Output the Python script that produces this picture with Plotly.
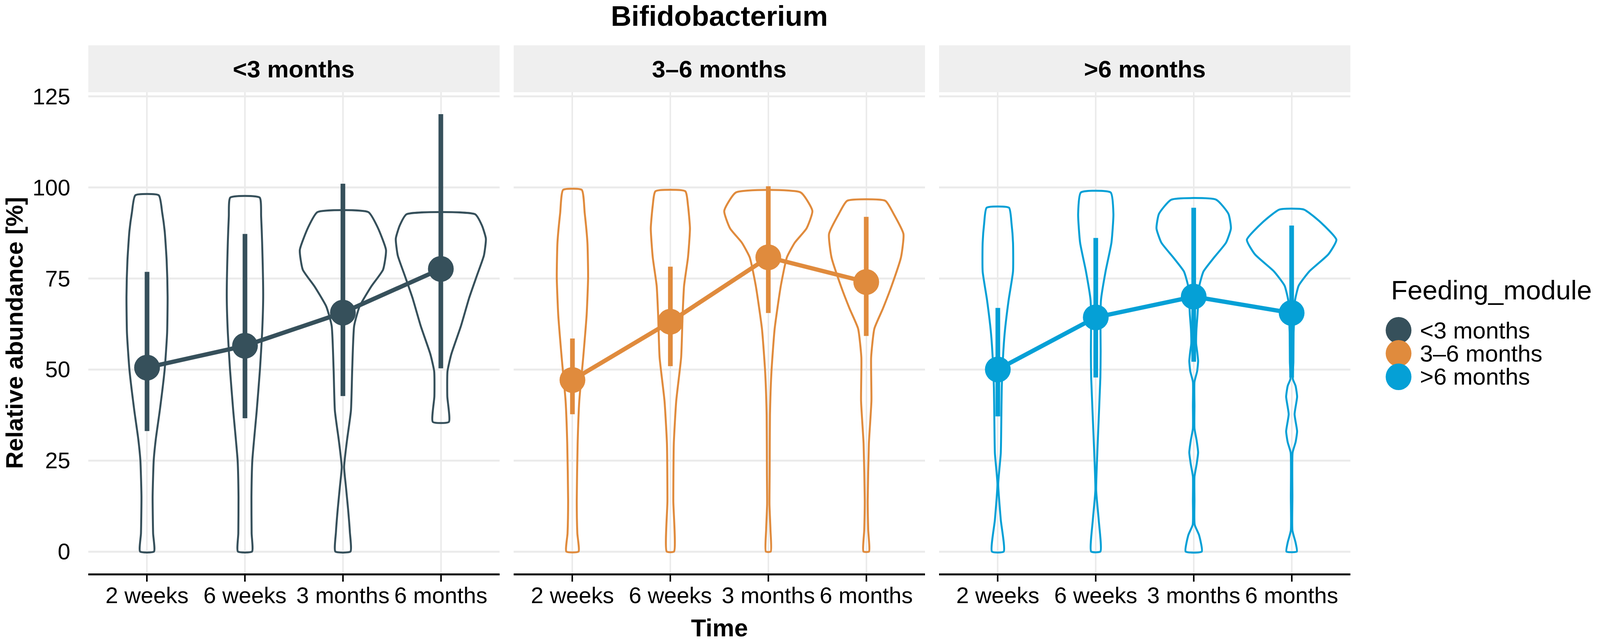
import plotly.graph_objects as go

# categories
times = ["2 weeks", "6 weeks", "3 months", "6 months"]
groups = ["<3 months", "3–6 months", ">6 months"]
colors = ["#36505B", "#E08B3D", "#05A0D6"]

# mean point and range
mean_lt3 = [50.5, 56.5, 65.6, 77.6]
low_lt3 = [33.1, 36.6, 42.7, 50.3]
high_lt3 = [76.8, 87.2, 101.0, 120.1]

mean_36 = [47.1, 63.1, 80.8, 74.0]
low_36 = [37.7, 50.9, 65.5, 59.2]
high_36 = [58.5, 78.2, 100.3, 91.9]

mean_gt6 = [50.0, 64.3, 70.0, 65.5]
low_gt6 = [37.1, 47.8, 52.1, 47.8]
high_gt6 = [66.9, 86.1, 94.4, 89.5]

# violin outlines: abundance levels and half widths (x units)
# <3 months
v_lt3_2w_y = [0, 5, 15, 25, 31, 38.7, 50, 60, 70, 80, 88, 93, 97.8]
v_lt3_2w_w = [0.071, 0.062, 0.057, 0.068, 0.09, 0.13, 0.18, 0.205, 0.21, 0.2, 0.18, 0.155, 0.12]
v_lt3_6w_y = [0, 5, 15, 25, 38.7, 50, 60, 70, 85, 92, 97.2]
v_lt3_6w_w = [0.072, 0.068, 0.066, 0.075, 0.12, 0.153, 0.175, 0.186, 0.175, 0.165, 0.15]
v_lt3_3m_y = [0, 5.4, 11.6, 18, 23.2, 28, 31, 38.7, 50, 62, 67.3, 72.8, 77.4, 82.8, 89, 93.2]
v_lt3_3m_w = [0.077, 0.071, 0.053, 0.03, 0.012, 0.03, 0.044, 0.082, 0.095, 0.115, 0.17, 0.29, 0.41, 0.44, 0.355, 0.26]
v_lt3_6m_y = [35.6, 42.6, 49.5, 54.2, 61.9, 69.7, 75.9, 81.3, 85.9, 89.5, 92.6]
v_lt3_6m_w = [0.082, 0.066, 0.068, 0.107, 0.205, 0.29, 0.37, 0.44, 0.46, 0.42, 0.35]
# 3-6 months
v_36_2w_y = [0, 5, 13.9, 29.6, 41.4, 53.3, 65, 75.3, 84.8, 93, 99.3]
v_36_2w_w = [0.062, 0.05, 0.044, 0.053, 0.07, 0.11, 0.145, 0.16, 0.153, 0.125, 0.095]
v_36_6w_y = [0, 13.9, 29.6, 41.4, 53.3, 65, 73, 80.8, 88.7, 95, 98.9]
v_36_6w_w = [0.037, 0.03, 0.035, 0.06, 0.11, 0.125, 0.14, 0.18, 0.2, 0.18, 0.153]
v_36_3m_y = [0, 6, 13, 21.7, 37.5, 49.3, 61.2, 73, 80.8, 84.8, 88.7, 93.5, 98.6]
v_36_3m_w = [0.025, 0.022, 0.012, 0.014, 0.017, 0.032, 0.065, 0.128, 0.19, 0.27, 0.39, 0.45, 0.33]
v_36_6m_y = [0, 6, 13.9, 29.6, 41.4, 53.3, 61.2, 66.7, 73, 80.8, 87.2, 92.7, 96.3]
v_36_6m_w = [0.028, 0.02, 0.015, 0.027, 0.053, 0.05, 0.083, 0.17, 0.26, 0.355, 0.38, 0.28, 0.195]
# >6 months
v_gt6_2w_y = [0, 8.7, 18.5, 27, 35, 45, 52, 60, 69, 76.9, 84.8, 90, 94.4]
v_gt6_2w_w = [0.06, 0.03, 0.004, 0.03, 0.035, 0.04, 0.05, 0.07, 0.11, 0.155, 0.155, 0.14, 0.114]
v_gt6_6w_y = [0, 8.7, 16.9, 31.3, 47.8, 55, 62, 69, 76.9, 84.8, 92.7, 98.6]
v_gt6_6w_w = [0.047, 0.03, 0.004, 0.022, 0.047, 0.05, 0.048, 0.053, 0.1, 0.16, 0.18, 0.152]
v_gt6_3m_y = [0, 4.5, 7.4, 14, 20.6, 24, 27.2, 30.5, 33.8, 40, 46.6, 49.5, 52.3, 55, 57, 61, 65, 73,
              76.9, 80.8, 84.8, 88.7, 92.7, 96.6]
v_gt6_3m_w = [0.082, 0.055, 0.01, 0.008, 0.008, 0.03, 0.045, 0.03, 0.008, 0.008, 0.008, 0.035, 0.045,
              0.035, 0.025, 0.028, 0.039, 0.058, 0.1, 0.21, 0.33, 0.38, 0.355, 0.23]
v_gt6_6m_y = [0, 2.5, 5.8, 15, 27.2, 30, 33, 37.7, 42.5, 45.5, 47.4, 52, 60, 66, 69, 73, 76.9, 81.6,
              85.6, 90.3, 93.9]
v_gt6_6m_w = [0.053, 0.04, 0.008, 0.008, 0.01, 0.04, 0.056, 0.03, 0.056, 0.04, 0.012, 0.018, 0.02, 0.03,
              0.035, 0.072, 0.18, 0.375, 0.457, 0.3, 0.125]

violins = [
    [(v_lt3_2w_y, v_lt3_2w_w), (v_lt3_6w_y, v_lt3_6w_w), (v_lt3_3m_y, v_lt3_3m_w), (v_lt3_6m_y, v_lt3_6m_w)],
    [(v_36_2w_y, v_36_2w_w), (v_36_6w_y, v_36_6w_w), (v_36_3m_y, v_36_3m_w), (v_36_6m_y, v_36_6m_w)],
    [(v_gt6_2w_y, v_gt6_2w_w), (v_gt6_6w_y, v_gt6_6w_w), (v_gt6_3m_y, v_gt6_3m_w), (v_gt6_6m_y, v_gt6_6m_w)],
]
means = [mean_lt3, mean_36, mean_gt6]
lows = [low_lt3, low_36, low_gt6]
highs = [high_lt3, high_36, high_gt6]

# the browser viewport is 4096 px wide, so horizontal placements are scaled from the 4317 px reference
W, H = 4096, 1645
sx = W / 4317
ML, MT, MB = 238 * sx, 236, 178
MR = W - 3644 * sx
PW = W - ML - MR
PH = H - MT - MB
panel_w, gap = 1110 * sx, 38 * sx
FONT = "Liberation Sans, Arial, sans-serif"


def px_x(px):
    # reference pixel column -> paper x
    return (px * sx - ML) / PW


def px_y(py):
    # reference pixel row -> paper y
    return (H - MB - py) / PH


fig = go.Figure()
xpos = [1, 2, 3, 4]

for g in range(3):
    xa = "x" if g == 0 else f"x{g + 1}"
    ya = "y" if g == 0 else f"y{g + 1}"
    col = colors[g]
    # violins
    for t in range(4):
        ys, ws = violins[g][t]
        c = xpos[t]
        vx = [c + w for w in ws] + [c - w for w in reversed(ws)] + [c + ws[0]]
        vy = list(ys) + list(reversed(ys)) + [ys[0]]
        fig.add_trace(go.Scatter(
            x=vx, y=vy, mode="lines", xaxis=xa, yaxis=ya,
            line=dict(color=col, width=5, shape="spline", smoothing=0.5),
            showlegend=False, hoverinfo="skip"))
    # connecting line
    fig.add_trace(go.Scatter(
        x=xpos, y=means[g], mode="lines", xaxis=xa, yaxis=ya,
        line=dict(color=col, width=11), showlegend=False, hoverinfo="skip"))
    # point ranges
    fig.add_trace(go.Scatter(
        x=xpos, y=means[g], mode="markers", xaxis=xa, yaxis=ya,
        marker=dict(color=col, size=66, line=dict(width=0)),
        error_y=dict(type="data", symmetric=False,
                     array=[h - m for h, m in zip(highs[g], means[g])],
                     arrayminus=[m - l for m, l in zip(means[g], lows[g])],
                     color=col, thickness=12, width=0),
        name=groups[g], showlegend=False))

layout = dict(
    width=W, height=H,
    margin=dict(l=ML, r=MR, t=MT, b=MB),
    plot_bgcolor="white", paper_bgcolor="white",
    font=dict(family=FONT, color="black"),
    title=dict(text="<b>Bifidobacterium</b>", x=0.5, xref="paper", xanchor="center",
               y=1 - 40 / H, yref="container", yanchor="middle",
               font=dict(size=73, family=FONT, color="black")),
    showlegend=False,
)

shapes = []
annotations = []
for g in range(3):
    x0 = g * (panel_w + gap) / PW
    x1 = (g * (panel_w + gap) + panel_w) / PW
    key = "" if g == 0 else str(g + 1)
    layout["xaxis" + key] = dict(
        domain=[x0, min(x1, 1.0)], range=[0.4, 4.6], anchor="y" + key,
        tickvals=xpos, ticktext=times, ticklabelstandoff=-15,
        tickfont=dict(size=58, color="black"),
        showgrid=True, gridcolor="#EBEBEB", gridwidth=4,
        showline=True, linecolor="black", linewidth=5,
        ticks="outside", ticklen=16, tickwidth=4, tickcolor="black",
        zeroline=False, fixedrange=True)
    layout["yaxis" + key] = dict(
        range=[-6.0, 126.1], anchor="x" + key,
        tickvals=[0, 25, 50, 75, 100, 125],
        showticklabels=(g == 0), ticklabelstandoff=45,
        tickfont=dict(size=58, color="black"),
        showgrid=True, gridcolor="#EBEBEB", gridwidth=5,
        zeroline=False, showline=False, ticks="", fixedrange=True)
    if g > 0:
        layout["yaxis" + key]["matches"] = "y"
    shapes.append(dict(type="rect", xref="paper", yref="paper",
                       x0=x0, x1=x1, y0=1.0, y1=1 + 120 / PH,
                       fillcolor="#EFEFEF", line=dict(width=0), layer="below"))
    annotations.append(dict(text=f"<b>{groups[g]}</b>", xref="paper", yref="paper",
                            x=(x0 + x1) / 2, y=1 + 60 / PH, xanchor="center", yanchor="middle",
                            showarrow=False, font=dict(size=62, family=FONT, color="black")))

# axis titles
annotations.append(dict(text="<b>Time</b>", xref="paper", yref="paper", x=0.5, y=px_y(1606),
                        xanchor="center", yanchor="middle", showarrow=False,
                        font=dict(size=63, family=FONT, color="black")))
annotations.append(dict(text="<b>Relative abundance [%]</b>", xref="paper", yref="paper",
                        x=px_x(38), y=0.5, xanchor="center", yanchor="middle", textangle=-90,
                        showarrow=False, font=dict(size=62, family=FONT, color="black")))

# legend drawn by hand so the keys keep their size
leg_ys = [845, 904, 964]
annotations.append(dict(text="Feeding_module", xref="paper", yref="paper",
                        x=px_x(3752), y=px_y(742), xanchor="left", yanchor="middle",
                        showarrow=False, font=dict(size=69, family=FONT, color="black")))
for g in range(3):
    yp = px_y(leg_ys[g])
    shapes.append(dict(type="circle", xref="paper", yref="paper",
                       xsizemode="pixel", ysizemode="pixel", xanchor=px_x(3774), yanchor=yp,
                       x0=-33, x1=33, y0=-34, y1=34,
                       fillcolor=colors[g], line=dict(width=0)))
    annotations.append(dict(text=groups[g], xref="paper", yref="paper",
                            x=px_x(3830), y=yp, xanchor="left", yanchor="middle",
                            showarrow=False, font=dict(size=60, family=FONT, color="black")))

layout["shapes"] = shapes
layout["annotations"] = annotations
fig.update_layout(**layout)

# drop the default page margin so the figure sits at the window's corner
fig.write_html("out.html", config={"displayModeBar": False},
               post_script="document.body.style.margin='0';")
